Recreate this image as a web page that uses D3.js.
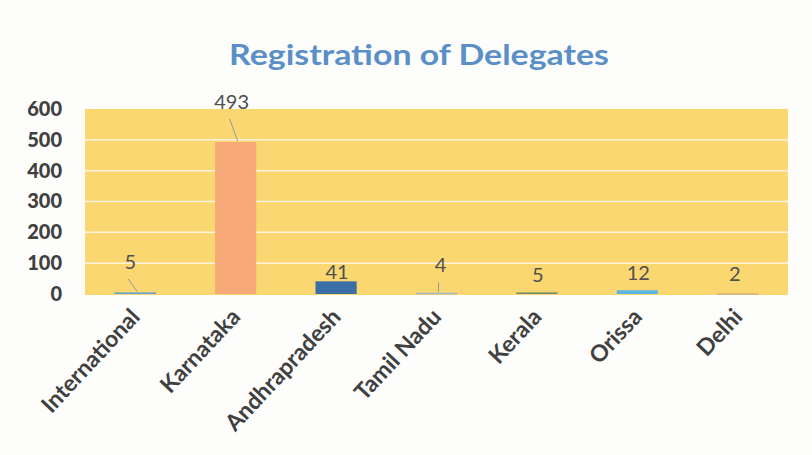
<!DOCTYPE html>
<html><head><meta charset="utf-8">
<script src="https://cdn.jsdelivr.net/npm/d3@7"></script>
<style>body{margin:0;background:#fdfdfc;} svg{display:block;}</style>
</head><body>
<svg id="c" width="812" height="455"></svg>
<script>
const title = "Registration of Delegates";
const categories = ["International","Karnataka","Andhrapradesh","Tamil Nadu","Kerala","Orissa","Delhi"];
const values = [5,493,41,4,5,12,2];
const barColors = ["#5aa0d0","#f7a978","#3b6ea5","#9fb6c8","#6f8a6a","#5bb6e4","#c9b27a"];
const yTicks = [0,100,200,300,400,500,600];
// manual data-label nudges (px) as in the reference
const labelDx = [-5,-4,1,4,1,1,-3];
const labelDy = [-15.5,-25,6,-12.5,-2.5,-2,-4.5];

const svg = d3.select("#c");
const m = {l:85, r:24, t:109, b:161};
const W = 812, H = 455;
const FONT = "Lato, 'Open Sans', sans-serif";
const x = d3.scaleBand().domain(categories).range([m.l, W-m.r]).paddingInner(0.59).paddingOuter(0.295);
const y = d3.scaleLinear().domain([0,600]).range([H-m.b, m.t]);

svg.append("text").attr("x", 419).attr("y", 65).attr("text-anchor","middle")
  .attr("font-family",FONT).attr("font-weight","bold")
  .attr("font-size", 28).attr("fill","#5a8fc8").attr("textLength",380).attr("lengthAdjust","spacingAndGlyphs")
  .text(title);

svg.append("rect").attr("x", m.l).attr("y", y(600)).attr("width", W-m.r-m.l).attr("height", y(0)-y(600)+1)
  .attr("fill","#fbd772");

svg.append("g").selectAll("line").data(yTicks.filter(d=>d>0 && d<600)).join("line")
  .attr("x1", m.l).attr("x2", W-m.r).attr("y1", d=>y(d)).attr("y2", d=>y(d))
  .attr("stroke","#fdf3dc").attr("stroke-width",1.5);

const yAxis = svg.append("g").attr("transform",`translate(${m.l},0)`)
  .call(d3.axisLeft(y).tickValues(yTicks).tickSize(0).tickPadding(23));
yAxis.select(".domain").remove();
yAxis.selectAll("text").attr("font-family",FONT).attr("font-weight","900")
  .attr("font-size",20).attr("fill","#404040");

svg.append("g").selectAll("rect").data(values).join("rect")
  .attr("x",(d,i)=>x(categories[i])).attr("width",x.bandwidth())
  .attr("y",d=>y(d)).attr("height",d=>Math.max(1.5,y(0)-y(d)))
  .attr("fill",(d,i)=>barColors[i]);

const lab = svg.append("g");
values.forEach((v,i)=>{
  const cx = x(categories[i]) + x.bandwidth()/2;
  const ly = y(v) - 8 + labelDy[i];
  const lx = cx + labelDx[i];
  if (labelDy[i] < -10) {
    lab.append("line").attr("x1", lx-2).attr("y1", ly+10).attr("x2", cx+2).attr("y2", y(v)-1)
      .attr("stroke","#8a9aa6").attr("stroke-width",1);
  }
  lab.append("text").attr("x", lx).attr("y", ly).attr("text-anchor","middle")
    .attr("font-family",FONT).attr("font-size",20).attr("fill","#505050")
    .text(v);
});

const xAxis = svg.append("g").attr("transform",`translate(0,${y(0)})`)
  .call(d3.axisBottom(x).tickSize(0).tickPadding(0));
xAxis.select(".domain").remove();
xAxis.selectAll("text")
  .attr("font-family",FONT).attr("font-weight","bold")
  .attr("font-size",23).attr("fill","#404040")
  .attr("text-anchor","end").attr("dy",null).attr("y",0)
  .attr("transform","translate(6,24) rotate(-47)");
</script>
</body></html>
